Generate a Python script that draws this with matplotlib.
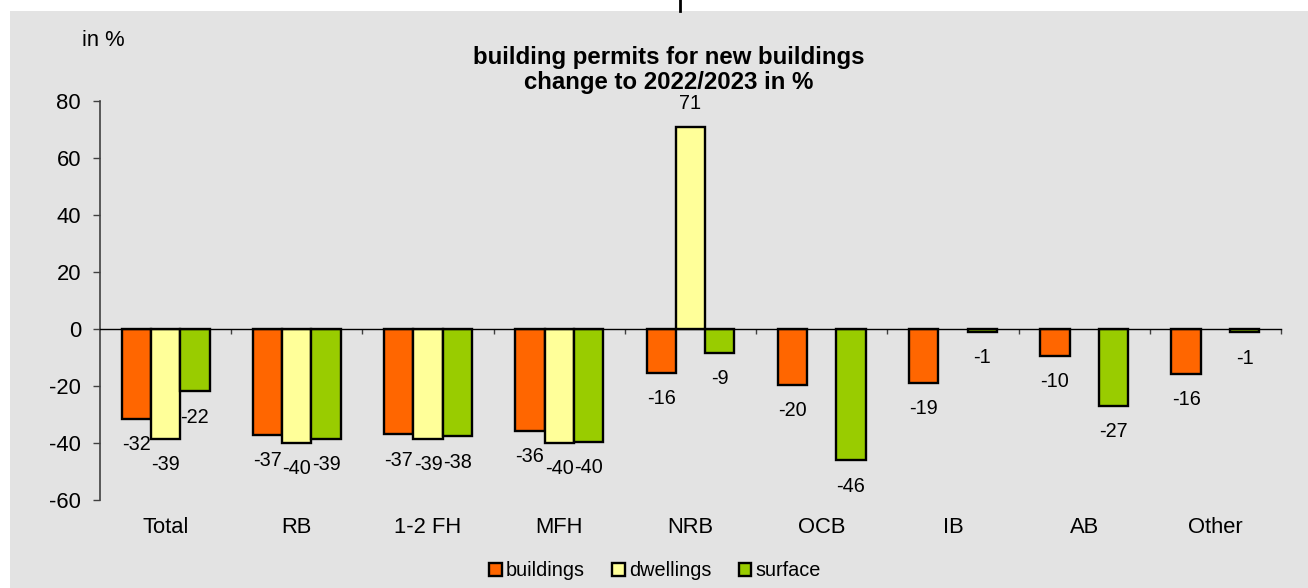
import numpy as np
import matplotlib
matplotlib.use("Agg")
import matplotlib.pyplot as plt
from matplotlib.patches import Rectangle
from matplotlib.lines import Line2D
import matplotlib.transforms as mtransforms

plt.rcParams['font.family'] = ['Liberation Sans', 'DejaVu Sans']

categories = ['Total', 'RB', '1-2 FH', 'MFH', 'NRB', 'OCB', 'IB', 'AB', 'Other']
buildings = [-31.6, -37.2, -37.1, -35.9, -15.6, -19.8, -19.1, -9.5, -16.0]
dwellings = [-38.6, -40.0, -38.7, -40.1, 70.8, np.nan, np.nan, np.nan, np.nan]
surface = [-22.0, -38.8, -37.8, -39.6, -8.6, -46.2, -1.0, -27.2, -1.3]
series_names = ['buildings', 'dwellings', 'surface']
colors = ['#FF6600', '#FFFF99', '#99CC00']
yticks = [-60, -40, -20, 0, 20, 40, 60, 80]

W, H = 1308, 588
fig = plt.figure(figsize=(W / 100, H / 100), dpi=100, facecolor='white')

# grey panel
fig.patches.append(Rectangle((10 / W, 0), 1 - 10 / W, 1 - 11 / H, transform=fig.transFigure,
                             facecolor='#E3E3E3', edgecolor='none', zorder=-10))
fig.add_artist(Line2D([680 / W, 680 / W], [1 - 11 / H, 1], transform=fig.transFigure,
                      color='black', lw=2))

ax_l, ax_r = 100 / W, 1281 / W
ax_b, ax_t = (H - 499.7) / H, (H - 100.7) / H
ax = fig.add_axes([ax_l, ax_b, ax_r - ax_l, ax_t - ax_b])
ax.set_facecolor('none')
ax.set_zorder(2)

x = np.arange(len(categories))
bw = 0.223
data = [buildings, dwellings, surface]
for i, (vals, c) in enumerate(zip(data, colors)):
    vals = np.asarray(vals, dtype=float)
    m = ~np.isnan(vals)
    xs = x[m] + (i - 1) * bw
    ax.bar(xs, vals[m], width=bw, color=c, edgecolor='black', linewidth=1.7, zorder=3)
    for xx, v in zip(xs, vals[m]):
        off = 17 if v > 0 else -18.5
        ax.annotate(f"{round(v):d}", (xx, v), xytext=(0, off), textcoords='offset points',
                    ha='center', va='center', fontsize=14.3, zorder=4)

ax.set_xlim(-0.5, len(categories) - 0.5)
ax.set_ylim(-60, 80)
ax.set_yticks(yticks)
ax.set_yticklabels([str(t) for t in yticks])
ax.tick_params(axis='y', direction='out', length=4.7, width=1, color='#404040',
               labelsize=15.8, pad=9)

for s in ['top', 'right']:
    ax.spines[s].set_visible(False)
ax.spines['left'].set_color('#404040')
ax.spines['left'].set_linewidth(1.2)
ax.spines['bottom'].set_position(('data', 0))
ax.spines['bottom'].set_color('black')
ax.spines['bottom'].set_linewidth(1)
ax.spines['bottom'].set_zorder(5)
ax.set_xticks([])
ax.set_xticks(np.arange(len(categories)) + 0.5, minor=True)
ax.tick_params(axis='x', which='minor', direction='out', length=3.6, width=1, color='#404040')

trans = mtransforms.blended_transform_factory(ax.transData, ax.transAxes)
for xx, lab in zip(x, categories):
    ax.text(xx, -0.0706, lab, transform=trans, ha='center', va='center', fontsize=15.8)

fig.text(103 / W, 1 - 40 / H, 'in %', ha='center', va='center', fontsize=15.8)
fig.text(669 / W, 1 - 70 / H, 'building permits for new buildings\nchange to 2022/2023 in %',
         ha='center', va='center', fontsize=17.3, fontweight='bold', linespacing=1.1)

handles = [Rectangle((0, 0), 1, 1, facecolor=c, edgecolor='black', linewidth=1.7) for c in colors]
fig.legend(handles, series_names, loc='center', bbox_to_anchor=(655 / W, 1 - 571 / H),
           ncol=3, frameon=False, fontsize=14.3, handlelength=0.62, handleheight=0.62,
           handletextpad=0.2, columnspacing=1.4, borderpad=0)

fig.savefig('out.png', dpi=100, facecolor=fig.get_facecolor())
